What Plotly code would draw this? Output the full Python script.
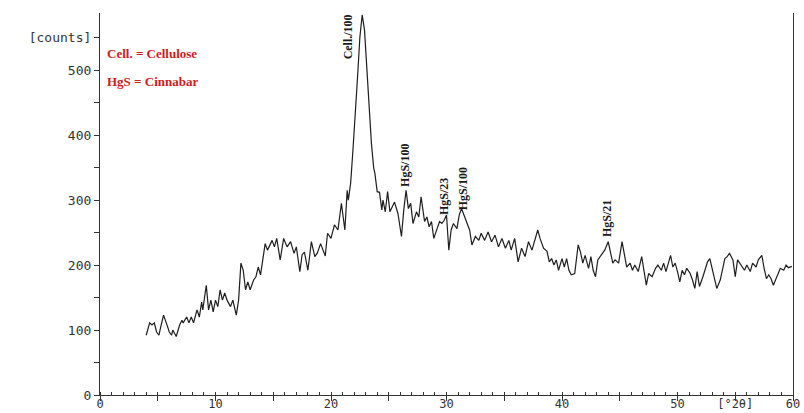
import plotly.graph_objects as go

two_theta = [
    4.0, 4.3, 4.5, 4.7, 4.9, 5.1, 5.3, 5.5, 5.8, 6.0, 6.2, 6.3, 6.6, 6.9, 7.1, 7.2, 7.5, 7.7, 7.9, 8.1,
    8.4, 8.6, 8.8, 8.9, 9.2, 9.4, 9.6, 9.8, 10.0, 10.2, 10.4, 10.6, 10.8, 11.0, 11.3, 11.5, 11.8, 12.0,
    12.2, 12.4, 12.6, 12.8, 13.0, 13.3, 13.5, 13.7, 13.9, 14.1, 14.3, 14.5, 14.7, 14.9, 15.1, 15.3,
    15.6, 15.9, 16.2, 16.5, 16.8, 17.0, 17.3, 17.5, 17.7, 18.0, 18.3, 18.6, 18.8, 19.1, 19.5, 19.7,
    20.0, 20.3, 20.6, 20.9, 21.2, 21.4, 21.5, 21.7, 21.9, 22.1, 22.3, 22.5, 22.7, 22.9, 23.1, 23.3,
    23.5, 23.7, 23.8, 24.0, 24.2, 24.4, 24.5, 24.7, 24.9, 25.1, 25.3, 25.5, 25.8, 26.1, 26.3, 26.5,
    26.7, 26.9, 27.1, 27.4, 27.6, 27.8, 28.1, 28.3, 28.5, 28.7, 28.9, 29.2, 29.4, 29.6, 29.8, 30.0,
    30.2, 30.4, 30.6, 30.9, 31.1, 31.3, 31.5, 31.7, 32.0, 32.2, 32.5, 32.8, 33.0, 33.3, 33.6, 33.9,
    34.2, 34.5, 34.8, 35.1, 35.4, 35.6, 35.9, 36.2, 36.5, 36.8, 37.1, 37.4, 37.7, 37.9, 38.1, 38.4,
    38.7, 38.9, 39.1, 39.3, 39.5, 39.7, 40.0, 40.2, 40.4, 40.6, 40.8, 41.1, 41.4, 41.6, 41.8, 42.0,
    42.3, 42.5, 42.7, 42.9, 43.1, 43.4, 43.7, 44.0, 44.2, 44.4, 44.6, 44.9, 45.2, 45.4, 45.6, 45.9,
    46.1, 46.3, 46.6, 46.9, 47.1, 47.3, 47.5, 47.8, 48.1, 48.3, 48.6, 48.8, 49.0, 49.2, 49.4, 49.6,
    49.8, 50.0, 50.2, 50.4, 50.6, 50.8, 51.1, 51.3, 51.5, 51.7, 51.9, 52.2, 52.4, 52.6, 52.8, 53.0,
    53.2, 53.4, 53.7, 53.9, 54.1, 54.3, 54.5, 54.8, 55.0, 55.2, 55.4, 55.6, 55.8, 56.0, 56.3, 56.5,
    56.8, 57.0, 57.3, 57.5, 57.7, 57.9, 58.1, 58.3, 58.5, 58.7, 58.9, 59.2, 59.4, 59.6, 59.9,
]
counts = [
    92, 111, 108, 111, 97, 92, 108, 123, 108, 97, 92, 100, 90, 108, 115, 111, 120, 111, 120, 111,
    131, 120, 143, 131, 169, 131, 146, 128, 146, 136, 162, 146, 157, 146, 136, 146, 123, 146,
    203, 192, 162, 174, 162, 177, 182, 197, 185, 208, 233, 223, 231, 238, 228, 241,
    208, 241, 228, 236, 218, 228, 190, 216, 220, 192, 236, 213, 218, 233, 214, 249,
    241, 262, 254, 295, 254, 315, 300, 326, 377, 428, 490, 551, 585, 562, 505, 438,
    387, 349, 341, 313, 312, 285, 300, 282, 313, 282, 290, 297, 279, 244, 285, 315,
    287, 295, 264, 282, 274, 305, 267, 274, 259, 267, 241, 259, 267, 264, 269, 277,
    223, 254, 264, 256, 277, 287, 277, 267, 254, 231, 244, 238, 249, 238, 251, 236,
    246, 228, 241, 226, 238, 223, 241, 205, 226, 213, 236, 223, 244, 254, 241, 226,
    221, 205, 210, 200, 208, 192, 210, 197, 210, 192, 185, 187, 231, 220, 203, 215,
    195, 213, 192, 182, 208, 215, 223, 236, 220, 203, 208, 203, 236, 213, 197, 203,
    192, 200, 190, 213, 190, 169, 187, 182, 195, 200, 192, 203, 190, 205, 215, 197,
    203, 190, 174, 192, 185, 195, 187, 177, 164, 190, 167, 182, 192, 205, 210, 195,
    177, 164, 177, 192, 210, 213, 218, 208, 182, 208, 203, 197, 192, 200, 190, 203,
    197, 208, 215, 195, 179, 185, 179, 169, 177, 187, 195, 192, 200, 196, 198,
]

y_tick_vals = [0, 50, 100, 150, 200, 250, 300, 350, 400, 450, 500, 550]
y_tick_text = ["0", "", "100", "", "200", "", "300", "", "400", "", "500", "[counts]"]
x_tick_vals = [0, 5, 10, 15, 20, 25, 30, 35, 40, 45, 50, 55, 60]
x_tick_text = ["0", "", "10", "", "20", "", "30", "", "40", "", "50", "[°2θ]", "60"]

peak_labels = ["Cell./100", "HgS/100", "HgS/23", "HgS/100", "HgS/21"]
peak_x = [21.5, 26.4, 29.8, 31.5, 43.9]
peak_y = [551, 354, 305, 318, 271]

legend_lines = ["Cell. = Cellulose", "HgS = Cinnabar"]
legend_y = [526, 482]

fig = go.Figure()
fig.add_trace(go.Scatter(x=two_theta, y=counts, mode="lines",
                         line=dict(color="#1e1e1e", width=1.2), showlegend=False,
                         hoverinfo="skip"))

tick_font = dict(family="DejaVu Sans Mono", size=13, color="#333333")
x_tick_font = dict(family="DejaVu Sans Mono", size=12, color="#333333")

for t, x, y in zip(peak_labels, peak_x, peak_y):
    fig.add_annotation(x=x, y=y, text=t, showarrow=False, textangle=-90,
                       font=dict(family="Liberation Serif", size=12, color="#1a1a1a", weight="bold"),
                       xanchor="center", yanchor="middle")

for t, y in zip(legend_lines, legend_y):
    fig.add_annotation(x=0.4, y=y, text=t, showarrow=False, xanchor="left", yanchor="middle",
                       font=dict(family="Liberation Serif", size=13, color="#d01c1c", weight="bold"))

fig.update_layout(
    width=804, height=413,
    margin=dict(l=100, r=11, t=13, b=18, autoexpand=False),
    paper_bgcolor="white", plot_bgcolor="white",
    xaxis=dict(range=[0, 60], tickmode="array", tickvals=x_tick_vals, ticktext=x_tick_text,
               ticks="outside", ticklen=5, tickwidth=1, tickcolor="#333333",
               showline=True, linecolor="#333333", linewidth=1.2, mirror=False,
               showgrid=False, zeroline=False, tickfont=x_tick_font, automargin=False,
               ticklabelstandoff=-8,
               minor=dict(dtick=1, tick0=0, ticks="inside", ticklen=3, tickcolor="#333333", showgrid=False)),
    yaxis=dict(range=[0, 588], tickmode="array", tickvals=y_tick_vals, ticktext=y_tick_text,
               ticks="outside", ticklen=5, tickwidth=1, tickcolor="#333333",
               showline=True, linecolor="#333333", linewidth=1.2, mirror=True,
               showgrid=False, zeroline=False, tickfont=tick_font, automargin=False),
)

fig.write_html("out.html", config={"displayModeBar": False},
               post_script="document.body.style.margin='0';document.body.style.overflow='hidden';")
